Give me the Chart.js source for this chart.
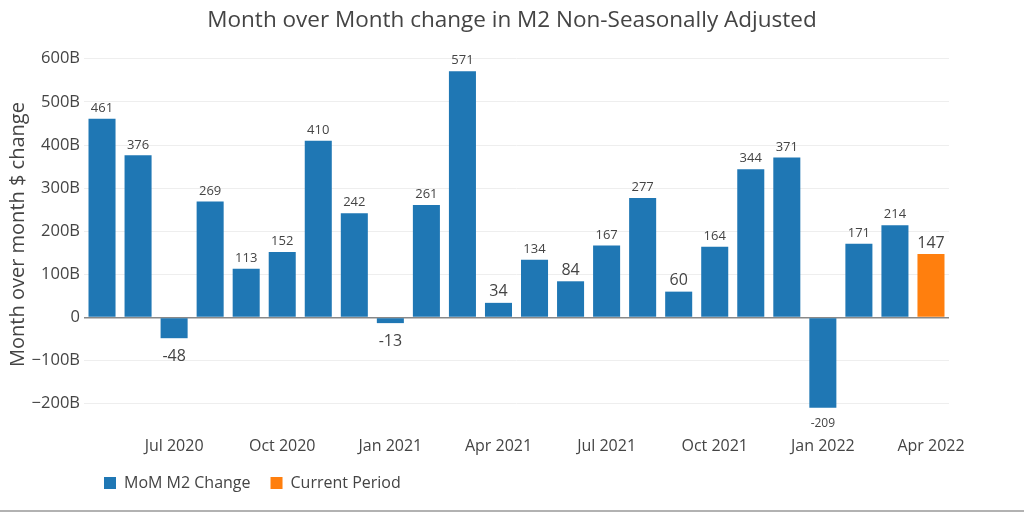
<!DOCTYPE html>
<html>
<head>
<meta charset="utf-8">
<script src="https://cdn.jsdelivr.net/npm/chart.js@4.4.0/dist/chart.umd.min.js"></script>
<style>
  html, body { margin: 0; padding: 0; background: #fff; }
  #wrap { width: 1024px; height: 512px; }
</style>
</head>
<body>
<div id="wrap"><canvas id="grafico" width="1024" height="512"></canvas></div>
<script>
// Meses (mayo 2020 - abril 2022)
const meses = [
    'May 2020', 'Jun 2020', 'Jul 2020', 'Aug 2020', 'Sep 2020', 'Oct 2020',
    'Nov 2020', 'Dec 2020', 'Jan 2021', 'Feb 2021', 'Mar 2021', 'Apr 2021',
    'May 2021', 'Jun 2021', 'Jul 2021', 'Aug 2021', 'Sep 2021', 'Oct 2021',
    'Nov 2021', 'Dec 2021', 'Jan 2022', 'Feb 2022', 'Mar 2022', 'Apr 2022'
];

// Cambio mensual de M2 (miles de millones)
const cambioM2 = [
    461, 376, -48, 269, 113, 152, 410, 242, -13, 261, 571, 34,
    134, 84, 167, 277, 60, 164, 344, 371, -209, 171, 214, null
];

// Periodo actual
const periodoActual = [
    null, null, null, null, null, null, null, null, null, null, null, null,
    null, null, null, null, null, null, null, null, null, null, null, 147
];

// Etiquetas visibles del eje X
const etiquetasEjeX = ['Jul 2020', 'Oct 2020', 'Jan 2021', 'Apr 2021', 'Jul 2021', 'Oct 2021', 'Jan 2022', 'Apr 2022'];

// Etiquetas con letra grande (como las dibuja plotly fuera de la barra)
const etiquetasGrandes = ['Jul 2020', 'Jan 2021', 'Apr 2021', 'Jun 2021', 'Sep 2021', 'Apr 2022'];

const fuente = "'Open Sans', 'Noto Sans', sans-serif";
const colorTexto = '#444';

// Plugin para escribir el valor sobre cada barra
const etiquetasBarras = {
    id: 'etiquetasBarras',
    afterDatasetsDraw(chart) {
        const ctx = chart.ctx;
        ctx.save();
        ctx.fillStyle = colorTexto;
        ctx.textAlign = 'center';
        chart.data.datasets.forEach((ds, i) => {
            const meta = chart.getDatasetMeta(i);
            meta.data.forEach((bar, j) => {
                const valor = ds.data[j];
                if (valor === null) return;
                const grande = etiquetasGrandes.includes(meses[j]);
                const tam = grande ? 16 : (valor < -150 ? 12 : 13);
                ctx.font = tam + 'px ' + fuente;
                if (valor >= 0) {
                    ctx.textBaseline = 'bottom';
                    ctx.fillText(valor, bar.x, bar.y - (grande ? 3 : 4));
                } else {
                    ctx.textBaseline = 'top';
                    ctx.fillText(valor, bar.x, bar.y + 10);
                }
            });
        });
        ctx.restore();
    }
};

// Línea gris inferior
const lineaInferior = {
    id: 'lineaInferior',
    afterDraw(chart) {
        const ctx = chart.ctx;
        ctx.save();
        ctx.strokeStyle = '#999';
        ctx.lineWidth = 1.5;
        ctx.beginPath();
        ctx.moveTo(0, 511);
        ctx.lineTo(chart.width, 511);
        ctx.stroke();
        ctx.restore();
    }
};

const chart = new Chart(document.getElementById('grafico').getContext('2d'), {
    type: 'bar',
    data: {
        labels: meses,
        datasets: [{
            label: 'MoM M2 Change',
            data: cambioM2,
            backgroundColor: '#1f77b4',
            barPercentage: 0.75,
            categoryPercentage: 1
        }, {
            label: 'Current Period',
            data: periodoActual,
            backgroundColor: '#ff7f0e',
            barPercentage: 0.75,
            categoryPercentage: 1
        }]
    },
    plugins: [etiquetasBarras, lineaInferior],
    options: {
        responsive: false,
        animation: false,
        devicePixelRatio: 1,
        layout: { padding: { left: 0, right: 0, top: 0, bottom: 11 } },
        datasets: { bar: { grouped: false } },
        plugins: {
            title: {
                display: true,
                text: 'Month over Month change in M2 Non-Seasonally Adjusted',
                color: colorTexto,
                font: { family: fuente, size: 22.5, weight: 'normal' },
                padding: { top: 7, bottom: 14 },
                align: 'center'
            },
            legend: {
                position: 'bottom',
                align: 'start',
                fullSize: false,
                labels: {
                    color: colorTexto,
                    font: { family: fuente, size: 16 },
                    boxWidth: 12,
                    boxHeight: 12,
                    padding: 20
                }
            },
            tooltip: { enabled: false }
        },
        scales: {
            x: {
                grid: { display: false },
                border: { display: false },
                ticks: {
                    color: colorTexto,
                    font: { family: fuente, size: 16 },
                    autoSkip: false,
                    maxRotation: 0,
                    padding: 8,
                    callback: function (valor) {
                        const m = meses[valor];
                        return etiquetasEjeX.includes(m) ? m : '';
                    }
                },
                afterFit: (escala) => { escala.height = 34; }
            },
            y: {
                min: -240,
                max: 625,
                border: { display: false },
                grid: {
                    drawTicks: false,
                    color: (c) => c.tick && c.tick.value === 0 ? '#888' : '#eeeeee',
                    lineWidth: (c) => c.tick && c.tick.value === 0 ? 1.5 : 1
                },
                ticks: {
                    stepSize: 100,
                    includeBounds: false,
                    color: colorTexto,
                    font: { family: fuente, size: 16.5 },
                    padding: 4,
                    callback: (v) => v === 0 ? '0' : (v < 0 ? '\u2212' + Math.abs(v) + 'B' : v + 'B')
                },
                title: {
                    display: true,
                    text: 'Month over month $ change',
                    color: colorTexto,
                    font: { family: fuente, size: 20 },
                    padding: { top: 6, bottom: 0 }
                },
                afterFit: (escala) => { escala.width = 84; }
            },
            derecha: {
                position: 'right',
                display: true,
                grid: { display: false },
                border: { display: false },
                ticks: { display: false },
                afterFit: (escala) => { escala.width = 75; }
            }
        }
    }
});
</script>
</body>
</html>
